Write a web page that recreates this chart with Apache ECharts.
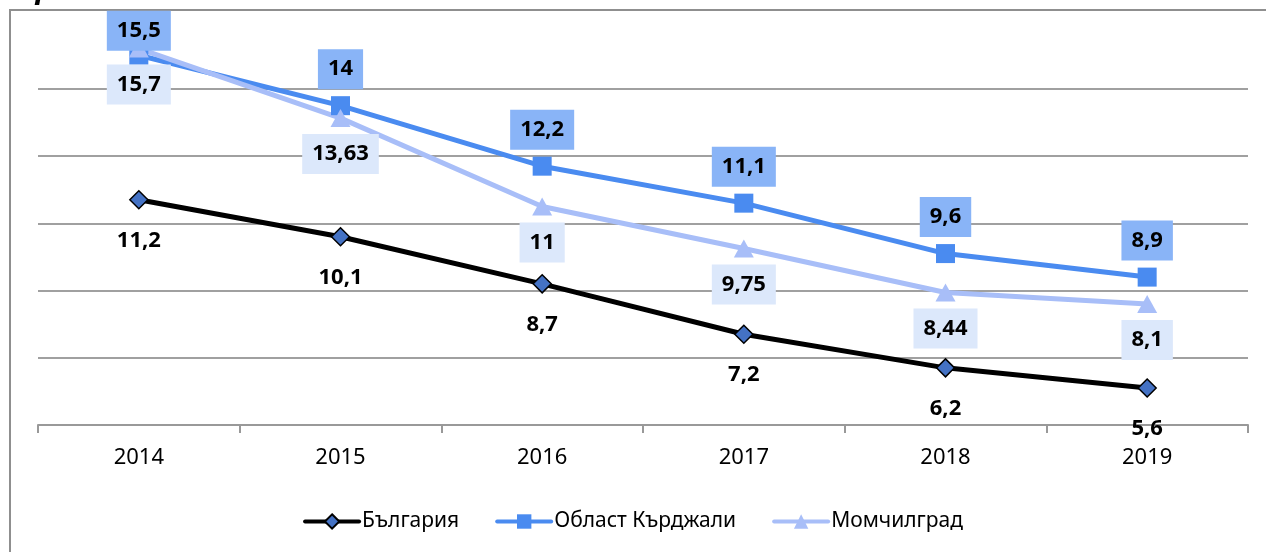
<!DOCTYPE html>
<html>
<head>
<meta charset="utf-8">
<script src="https://cdn.jsdelivr.net/npm/echarts@6/dist/echarts.min.js"></script>
<style>
  html, body { margin: 0; padding: 0; background: #fff; }
  #chart { width: 1266px; height: 552px; }
</style>
</head>
<body>
<div id="chart"></div>
<script>
// данни
var years = ['2014', '2015', '2016', '2017', '2018', '2019']
var bulgaria = [11.2, 10.1, 8.7, 7.2, 6.2, 5.6]
var kardzhali = [15.5, 14, 12.2, 11.1, 9.6, 8.9]
var momchilgrad = [15.7, 13.63, 11, 9.75, 8.44, 8.1]
var seriesNames = ['България', 'Област Кърджали', 'Момчилград']

var font = 'Noto Sans'
var fmt = function(p) { return String(p.value).replace('.', ',') }

var chart = echarts.init(document.getElementById('chart'))

chart.setOption({
  animation: false,
  textStyle: { fontFamily: font },
  grid: { left: 38, right: 18, top: 24, bottom: 127 },
  graphic: [
    { // рамка
      type: 'rect',
      shape: { x: 10, y: 10, width: 1270, height: 600 },
      style: { fill: 'none', stroke: '#8f8f8f', lineWidth: 2 },
      silent: true
    },
    {
      type: 'text',
      left: 34, top: -20,
      style: { text: 'р', font: 'italic bold 26px "DejaVu Serif"', fill: '#000' },
      silent: true
    }
  ],
  legend: {
    bottom: 15,
    left: 'center',
    itemWidth: 54,
    itemHeight: 18,
    itemGap: 36,
    lineStyle: { width: 4, cap: 'round' },
    textStyle: { fontSize: 21, color: '#000', fontFamily: font, padding: [0, 0, 0, -2] },
    data: seriesNames
  },
  xAxis: {
    type: 'category',
    data: years,
    boundaryGap: true,
    axisLine: { lineStyle: { color: '#999', width: 2 } },
    axisTick: { show: true, length: 8, lineStyle: { color: '#999', width: 2 } },
    axisLabel: { fontSize: 22, color: '#000', margin: 22 }
  },
  yAxis: {
    type: 'value',
    min: 4.5,
    max: 16.43,
    interval: 2,
    axisLine: { show: false },
    axisTick: { show: false },
    axisLabel: { show: false },
    splitLine: { showMaxLine: false, lineStyle: { color: '#a0a0a0', width: 2 } }
  },
  series: [
    {
      name: seriesNames[0],
      type: 'line',
      data: bulgaria,
      symbol: 'diamond',
      symbolSize: 18,
      itemStyle: { color: '#4472C4', borderColor: '#000', borderWidth: 1.5 },
      lineStyle: { color: '#000', width: 5 },
      label: {
        show: true, position: 'bottom', distance: 11, formatter: fmt,
        fontSize: 22, fontWeight: 'bold', color: '#000',
        padding: [7, 10], lineHeight: 26
      }
    },
    {
      name: seriesNames[1],
      type: 'line',
      data: kardzhali.map(function(v, i) {
        return i === 0 ? { value: v, label: { distance: -5 } } : v
      }),
      symbol: 'rect',
      symbolSize: 19,
      itemStyle: { color: '#4A8BF0' },
      lineStyle: { color: '#4A8BF0', width: 5 },
      label: {
        show: true, position: 'top', distance: 7, formatter: fmt,
        fontSize: 22, fontWeight: 'bold', color: '#000',
        backgroundColor: '#89B4F7', padding: [7, 10], lineHeight: 26
      }
    },
    {
      name: seriesNames[2],
      type: 'line',
      data: momchilgrad,
      symbol: 'triangle',
      symbolSize: [20, 18],
      itemStyle: { color: '#A8BEF8' },
      lineStyle: { color: '#A8BEF8', width: 5 },
      label: {
        show: true, position: 'bottom', distance: 7, formatter: fmt,
        fontSize: 22, fontWeight: 'bold', color: '#000',
        backgroundColor: '#DCE8FB', padding: [7, 10], lineHeight: 26
      }
    }
  ]
})
</script>
</body>
</html>
